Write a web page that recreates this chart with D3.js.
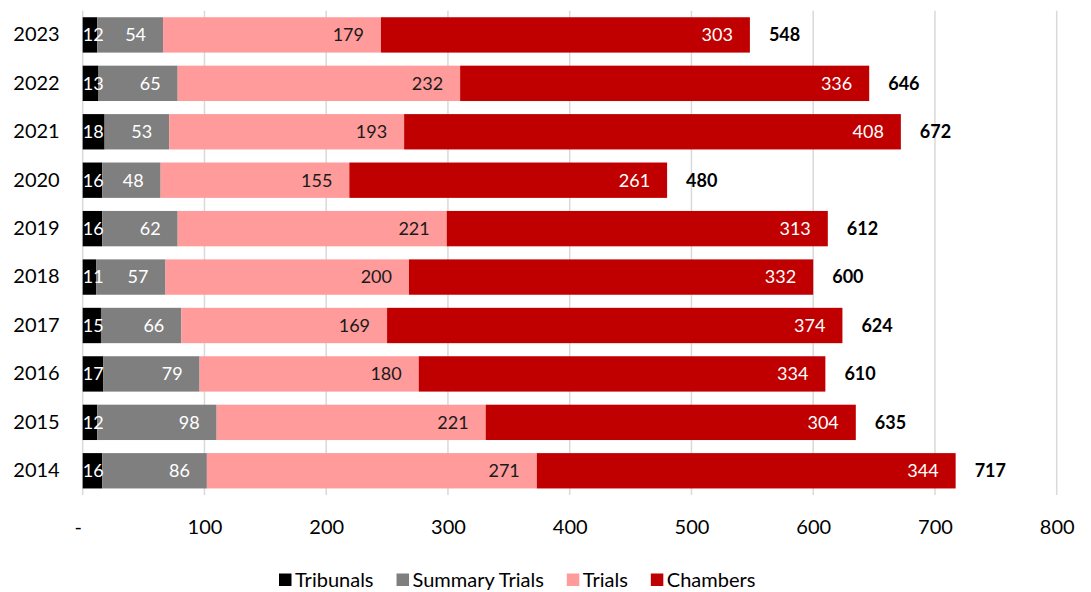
<!DOCTYPE html>
<html>
<head>
<meta charset="utf-8">
<script src="https://cdn.jsdelivr.net/npm/d3@7"></script>
<style>
  html, body { margin: 0; padding: 0; background: #fff; }
  svg { display: block; font-family: Lato, "Open Sans", sans-serif; }
</style>
</head>
<body>
<svg id="chart" width="1091" height="592"></svg>
<script>
// Case counts per year, split by procedure type
const years = ["2023", "2022", "2021", "2020", "2019", "2018", "2017", "2016", "2015", "2014"];
const seriesNames = ["Tribunals", "Summary Trials", "Trials", "Chambers"];
const tribunals = [12, 13, 18, 16, 16, 11, 15, 17, 12, 16];
const summaryTrials = [54, 65, 53, 48, 62, 57, 66, 79, 98, 86];
const trials = [179, 232, 193, 155, 221, 200, 169, 180, 221, 271];
const chambers = [303, 336, 408, 261, 313, 332, 374, 334, 304, 344];
const xTicks = [0, 100, 200, 300, 400, 500, 600, 700, 800];

const colors = ["#000000", "#7f7f7f", "#ff9b9b", "#c00000"];
const labelColors = ["#ffffff", "#ffffff", "#1a1a1a", "#ffffff"];

const rows = years.map((yr, i) => ({
  year: yr,
  Tribunals: tribunals[i],
  "Summary Trials": summaryTrials[i],
  Trials: trials[i],
  Chambers: chambers[i]
}));
rows.forEach(r => { r.total = seriesNames.reduce((s, k) => s + r[k], 0); });

const svg = d3.select("#chart");
const plotLeft = 82.7, plotRight = 1056.7, plotTop = 10.7, plotBottom = 495;

const x = d3.scaleLinear().domain([0, 800]).range([plotLeft, plotRight]);
const y = d3.scaleBand().domain(years).range([plotTop, plotBottom])
  .paddingInner(0.27).paddingOuter(0.135);

// vertical gridlines
svg.append("g").selectAll("line").data(xTicks).join("line")
  .attr("x1", d => x(d)).attr("x2", d => x(d))
  .attr("y1", plotTop).attr("y2", plotBottom)
  .attr("stroke", "#d9d9d9").attr("stroke-width", 1.5);

// x axis labels
const xAxis = d3.axisBottom(x).tickValues(xTicks)
  .tickFormat(d => d === 0 ? "-" : d3.format("d")(d))
  .tickSize(0).tickPadding(0);
const gx = svg.append("g").attr("transform", `translate(0, ${526.5})`).call(xAxis);
gx.select(".domain").remove();
gx.selectAll("text")
  .attr("dy", "0.35em").attr("y", 0)
  .style("font-family", "Lato, sans-serif").style("font-size", "20px").attr("fill", "#000")
  .attr("dx", d => d === 0 ? -5 : 0);

// y axis labels
const yAxis = d3.axisLeft(y).tickSize(0).tickPadding(23);
const gy = svg.append("g").attr("transform", `translate(${plotLeft}, 0)`).call(yAxis);
gy.select(".domain").remove();
gy.selectAll("text")
  .style("font-family", "Lato, sans-serif").style("font-size", "20px").attr("fill", "#000");

// stacked bars
const stack = d3.stack().keys(seriesNames)(rows);
const layers = svg.append("g").selectAll("g").data(stack).join("g")
  .attr("fill", (d, i) => colors[i]);

layers.selectAll("rect").data(d => d).join("rect")
  .attr("x", d => x(d[0]))
  .attr("width", d => x(d[1]) - x(d[0]))
  .attr("y", d => y(d.data.year))
  .attr("height", y.bandwidth());

// segment value labels, placed inside the end of each segment
const labelLayers = svg.append("g").selectAll("g").data(stack).join("g")
  .attr("fill", (d, i) => labelColors[i]);
labelLayers.each(function (layer) {
  d3.select(this).selectAll("text").data(layer).join("text")
    .text(d => d[1] - d[0])
    .attr("y", d => y(d.data.year) + y.bandwidth() / 2)
    .attr("dy", "0.35em")
    .attr("text-anchor", "end")
    .style("font-size", "18px")
    .attr("x", function (d) {
      const w = this.getComputedTextLength();
      return Math.max(x(d[1]) - 17, x(d[0]) + w);
    });
});

// totals
svg.append("g").selectAll("text").data(rows).join("text")
  .text(d => d.total)
  .attr("x", d => x(d.total) + 19)
  .attr("y", d => y(d.year) + y.bandwidth() / 2)
  .attr("dy", "0.35em")
  .style("font-size", "18px").style("font-weight", "bold")
  .attr("fill", "#000");

// legend
const legend = svg.append("g").attr("transform", "translate(279, 580)");
let lx = 0;
seriesNames.forEach((name, i) => {
  const g = legend.append("g").attr("transform", `translate(${lx}, 0)`);
  g.append("rect").attr("x", 0).attr("y", -6.5).attr("width", 12.5).attr("height", 12.5)
    .attr("fill", colors[i]);
  const t = g.append("text").attr("x", 16).attr("dy", "0.35em")
    .style("font-size", "20px").attr("fill", "#000").text(name);
  lx += 16 + t.node().getComputedTextLength() + 23;
});
</script>
</body>
</html>
